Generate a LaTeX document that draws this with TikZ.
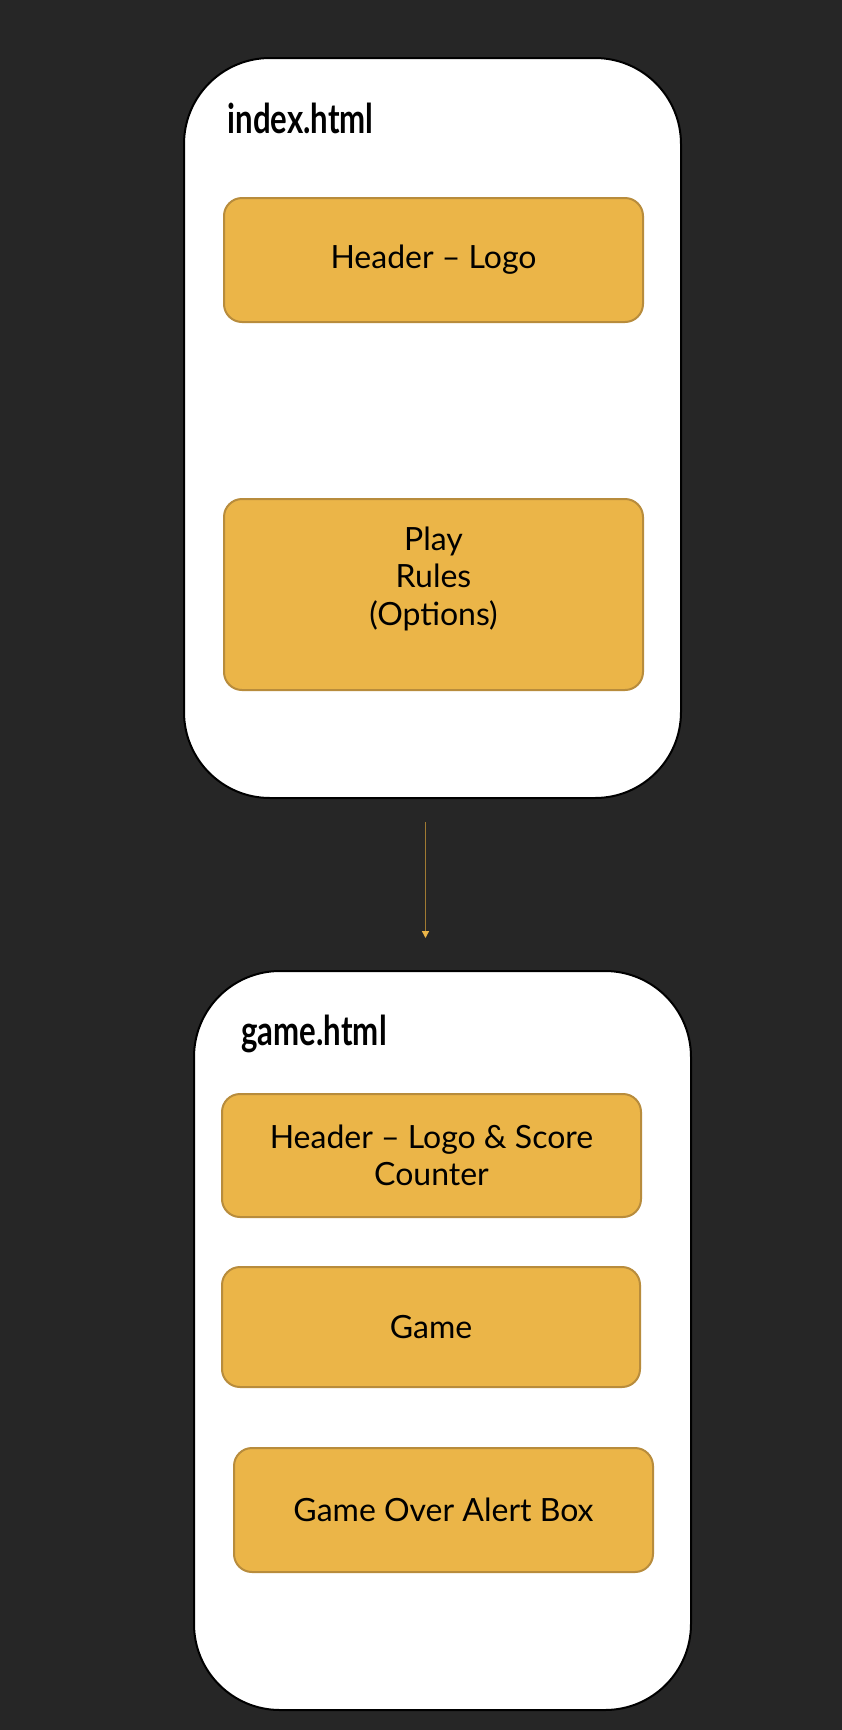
\documentclass[tikz,border=0pt]{standalone}
\usepackage{fontspec}
\setmainfont{Lato}
\newfontfamily\titlefont[FakeStretch=0.76]{Lato}
\usetikzlibrary{arrows.meta}

\definecolor{bgdark}{HTML}{262626}
\definecolor{partfill}{HTML}{EBB548}
\definecolor{partline}{HTML}{B88C3C}
\definecolor{flowline}{HTML}{A07A32}

\begin{document}
\begin{tikzpicture}[x=1pt, y=-1pt,
    card/.style={draw=black, line width=2pt, fill=white, rounded corners=86pt},
    part/.style={draw=partline, line width=2pt, fill=partfill, rounded corners=18pt,
        minimum width=419pt, align=center, font=\fontsize{32}{37.5}\selectfont},
    pagetitle/.style={anchor=base west, font=\titlefont\bfseries\fontsize{41}{41}\selectfont},
    flow/.style={draw=flowline, line width=1.3pt, -{Triangle[width=7pt, length=7pt, color=partfill]}}]

    % Background
    \fill[bgdark] (0,0) rectangle (842,1730);
    \useasboundingbox (0,0) rectangle (842,1730);

    % Pages
    \node[card, minimum width=497pt, minimum height=740pt] (index) at (432.5,428) {};
    \node[card, minimum width=497pt, minimum height=739pt] (game) at (442.5,1340.5) {};

    % index.html
    \node[pagetitle] (indextitle) at (224,133) {index.html};
    \node[part, minimum height=124pt] (indexheader) at (433.5,260) {Header – Logo};
    \node[part, minimum height=191pt] (menu) at (433.5,594.5) {Play\\Rules\\(Options)\\\mbox{}};

    % game.html
    \node[pagetitle] (gametitle) at (238,1045) {game.html};
    \node[part, minimum height=123pt] (gameheader) at (431.5,1155.5) {Header – Logo \& Score\\Counter};
    \node[part, minimum height=120pt, minimum width=418pt] (board) at (431,1327) {Game};
    \node[part, minimum height=124pt] (alert) at (443.5,1510) {Game Over Alert Box};

    % Flow between pages
    \coordinate (flowstart) at (425.5,822);
    \coordinate (flowend) at (425.5,938);
    \draw[flow] (flowstart) -- (flowend);
\end{tikzpicture}
\end{document}
